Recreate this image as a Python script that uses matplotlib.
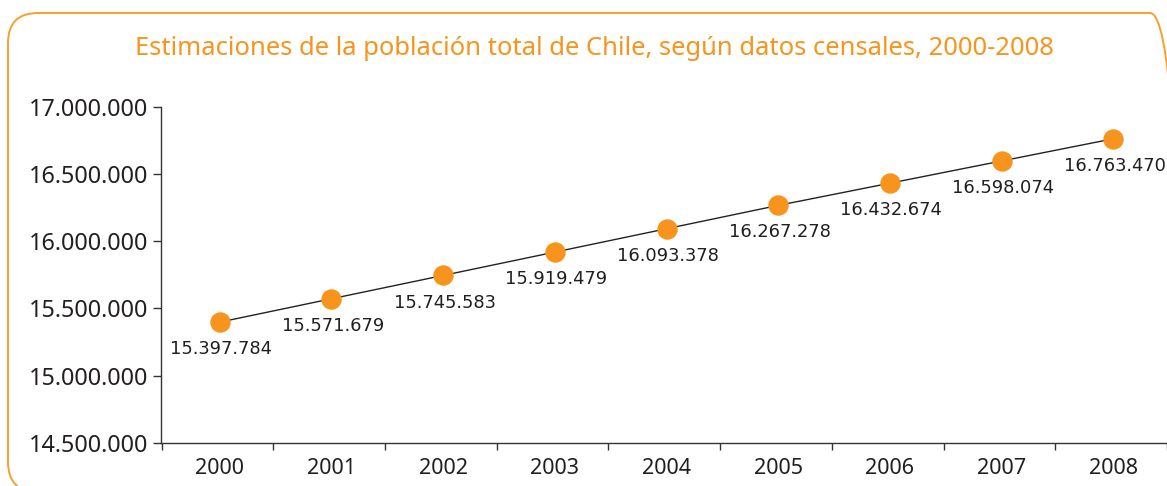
import matplotlib
matplotlib.use("Agg")
import matplotlib.pyplot as plt
from matplotlib.patches import FancyBboxPatch
from matplotlib.ticker import FuncFormatter, FixedLocator

years = ["2000", "2001", "2002", "2003", "2004", "2005", "2006", "2007", "2008"]
population = [15397784, 15571679, 15745583, 15919479, 16093378,
              16267278, 16432674, 16598074, 16763470]
y_ticks = [14500000, 15000000, 15500000, 16000000, 16500000, 17000000]
title = "Estimaciones de la población total de Chile, según datos censales, 2000-2008"

ORANGE = "#F7941D"
TXT = "#231F20"
W, H = 1167, 486

def fmt(v, pos=None):
    return f"{int(v):,}".replace(",", ".")

fig = plt.figure(figsize=(W / 100, H / 100), dpi=100)
fig.patch.set_facecolor("white")

# rounded orange frame (in inches, origin bottom-left)
frame = FancyBboxPatch((8 / 100, (H - 492) / 100), (1180 - 8) / 100, (492 - 13) / 100,
                       boxstyle="round,pad=0,rounding_size=0.30",
                       transform=fig.dpi_scale_trans, fill=False,
                       edgecolor="#F7A030", linewidth=1.4)
fig.patches.append(frame)

x0_px, x_unit = 220.0, 112.4
ax_left, ax_bottom, ax_top = 160.7, 442.7, 107.0
ax = fig.add_axes([ax_left / W, (H - ax_bottom) / H, 1 - ax_left / W,
                   (ax_bottom - ax_top) / H])
x = list(range(len(years)))
ax.plot(x, population, color="#222222", linewidth=1.0, zorder=2)
ax.plot(x, population, linestyle="none", marker="o", markersize=13.7,
        markerfacecolor=ORANGE, markeredgecolor=ORANGE, zorder=3,
        clip_on=False)
for xi, v in zip(x, population):
    ax.annotate(fmt(v), (xi, v), xytext=(1, -19.5), textcoords="offset points",
                ha="center", va="center", fontsize=12.9, color=TXT,
                family="DejaVu Sans", annotation_clip=False)

ax.set_xlim(-(x0_px - ax_left) / x_unit, (W - x0_px) / x_unit)
ax.set_ylim(14500000, 17000000)
ax.yaxis.set_major_locator(FixedLocator(y_ticks))
ax.yaxis.set_major_formatter(FuncFormatter(fmt))
ax.set_xticks(x)
ax.set_xticklabels(years)
ax.set_xticks([i + 0.48 for i in range(-1, len(years))], minor=True)
ax.tick_params(axis="x", which="major", length=0, pad=11, labelsize=15.5,
               labelcolor=TXT)
ax.tick_params(axis="x", which="minor", length=5, direction="out",
               color="#333333", width=1)
ax.tick_params(axis="y", which="major", length=6, direction="out",
               pad=3, labelsize=16.8, labelcolor=TXT, color="#333333", width=1)
for lab in ax.get_xticklabels() + ax.get_yticklabels():
    lab.set_family("Noto Sans")

for s in ["top", "right"]:
    ax.spines[s].set_visible(False)
for s in ["left", "bottom"]:
    ax.spines[s].set_color("#333333")
    ax.spines[s].set_linewidth(1.0)

t = fig.text(594 / W, 1 - 55 / H, title, ha="center", va="baseline",
             fontsize=15, color=ORANGE, family="Noto Sans")
# fit title width to the reference (~922 px)
fig.canvas.draw()
wpx = t.get_window_extent().width
t.set_fontsize(15 * 922 / wpx)

fig.savefig("out.png", dpi=100)
